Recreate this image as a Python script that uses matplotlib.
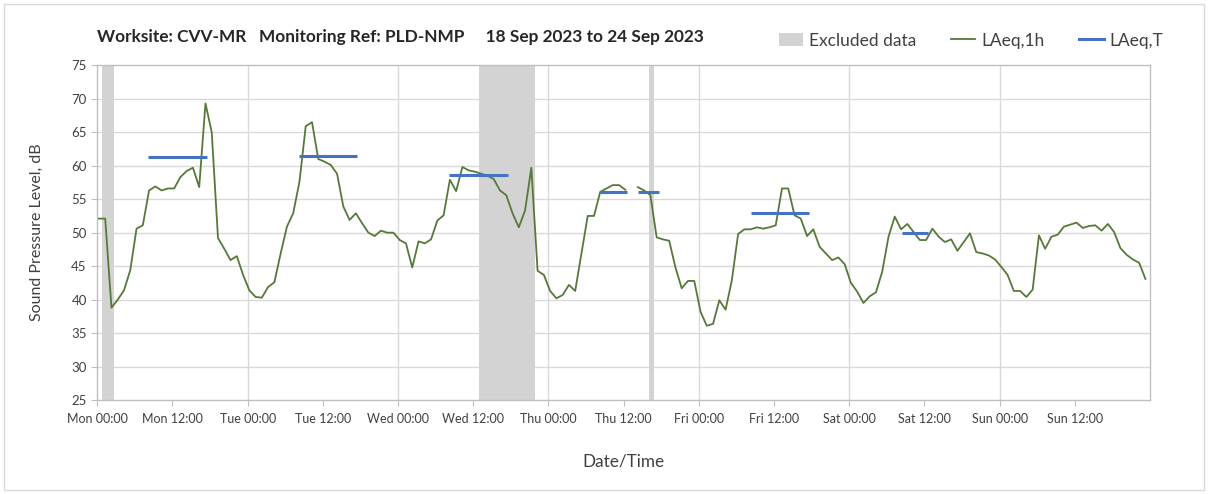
import matplotlib
matplotlib.use("Agg")
import matplotlib.pyplot as plt
import numpy as np
from matplotlib.lines import Line2D
from matplotlib.patches import Patch, Rectangle

plt.rcParams["font.family"] = ["Lato", "DejaVu Sans"]

# hourly LAeq,1h values, Mon 00:00 .. Sun 23:00 (NaN = no data)
laeq_1h = [
    52.1, 52.1, 38.8, 40.0, 41.4, 44.4, 50.6, 51.1, 56.3, 56.9, 56.3, 56.6,
    56.6, 58.3, 59.2, 59.7, 56.8, 69.3, 65.0, 49.2, 47.6, 45.9, 46.5, 43.7,
    41.4, 40.4, 40.3, 41.9, 42.6, 46.9, 50.9, 52.9, 57.6, 65.9, 66.5, 61.0,
    60.6, 60.1, 58.8, 53.9, 51.9, 52.9, 51.4, 50.0, 49.5, 50.3, 50.0, 50.0,
    48.9, 48.4, 44.8, 48.7, 48.4, 49.0, 51.8, 52.6, 57.9, 56.2, 59.8, 59.3,
    59.1, 58.8, 58.5, 58.0, 56.3, 55.6, 52.9, 50.8, 53.3, 59.7, 44.3, 43.7,
    41.3, 40.2, 40.7, 42.2, 41.3, 46.9, 52.5, 52.5, 56.1, 56.6, 57.1, 57.1,
    56.4, np.nan, 56.8, 56.3, 55.6, 49.3, 49.0, 48.8, 44.8, 41.7, 42.8, 42.8,
    38.2, 36.1, 36.4, 39.9, 38.5, 42.9, 49.8, 50.5, 50.5, 50.8, 50.6, 50.8,
    51.1, 56.6, 56.6, 52.6, 52.1, 49.5, 50.5, 47.9, 46.9, 45.9, 46.3, 45.3,
    42.5, 41.2, 39.5, 40.5, 41.1, 44.2, 49.4, 52.4, 50.5, 51.3, 50.1, 48.9,
    48.9, 50.6, 49.4, 48.6, 49.0, 47.3, 48.6, 49.9, 47.1, 46.9, 46.6, 46.0,
    44.9, 43.7, 41.3, 41.3, 40.4, 41.5, 49.6, 47.6, 49.4, 49.7, 50.9, 51.2,
    51.5, 50.7, 51.0, 51.1, 50.3, 51.3, 50.1, 47.7, 46.7, 46.0, 45.5, 43.1,
]

# LAeq,T periods: start hour, end hour, level
laeq_t_start = [8.1, 32.2, 56.2, 80.3, 86.3, 104.3, 128.4]
laeq_t_end = [17.5, 41.5, 65.6, 84.5, 89.6, 113.6, 132.6]
laeq_t_level = [61.3, 61.4, 58.6, 56.1, 56.1, 52.9, 50.0]

# excluded data periods (hours from Mon 00:00)
excl_start = [0.8, 60.9, 88.0]
excl_end = [2.7, 69.8, 88.8]

tick_labels = [
    "Mon 00:00", "Mon 12:00", "Tue 00:00", "Tue 12:00", "Wed 00:00", "Wed 12:00",
    "Thu 00:00", "Thu 12:00", "Fri 00:00", "Fri 12:00", "Sat 00:00", "Sat 12:00",
    "Sun 00:00", "Sun 12:00",
]

GREEN = "#557A38"
BLUE = "#4472C4"
BAND = "#D3D3D3"
GRID = "#D9D9D9"
TEXT = "#404040"

hours = np.arange(len(laeq_1h)) + 0.27

fig = plt.figure(figsize=(12.08, 4.94), dpi=100)
ax = fig.add_axes([0.0805, 0.190, 0.8715, 0.678])

for s, e in zip(excl_start, excl_end):
    ax.axvspan(s, e, color=BAND, linewidth=0, zorder=1)

ax.plot(hours, laeq_1h, color=GREEN, linewidth=1.3, zorder=3)
ax.hlines(laeq_t_level, laeq_t_start, laeq_t_end, color=BLUE, linewidth=2.2, zorder=4)

ax.set_xlim(0, 168)
ax.set_ylim(25, 75)
ax.set_yticks(np.arange(25, 76, 5))
ax.set_xticks(np.arange(0, 168, 12))
ax.set_xticklabels(tick_labels)
ax.grid(False)
for x in np.arange(24, 168, 24):
    ax.axvline(x, color=GRID, linewidth=1.0, zorder=0)
for y in np.arange(30, 75, 5):
    ax.axhline(y, color=GRID, linewidth=1.0, zorder=0)

for side in ["top", "right", "left", "bottom"]:
    ax.spines[side].set_color("#BFBFBF")
    ax.spines[side].set_linewidth(1.0)
ax.tick_params(axis="both", which="major", colors="#BFBFBF", labelcolor=TEXT,
               labelsize=9.5, length=4, direction="out")
ax.tick_params(axis="x", labelsize=9.0, pad=5)

ax.set_ylabel("Sound Pressure Level, dB", fontsize=11.5, color=TEXT, labelpad=20)
ax.set_xlabel("Date/Time", fontsize=12.3, color=TEXT, labelpad=21)

fig.text(0.080, 0.925, "Worksite: CVV-MR   Monitoring Ref: PLD-NMP     18 Sep 2023 to 24 Sep 2023",
         fontsize=12.4, fontweight="bold", color="#262626", va="center", ha="left")

handles = [
    Patch(facecolor=BAND, edgecolor="none"),
    Line2D([], [], color=GREEN, linewidth=1.3),
    Line2D([], [], color=BLUE, linewidth=2.2),
]
fig.legend(handles, ["Excluded data", "LAeq,1h", "LAeq,T"], loc="center right",
           bbox_to_anchor=(0.976, 0.918), ncol=3, frameon=False, fontsize=12.5,
           handlelength=1.4, handletextpad=0.35, columnspacing=2.0,
           labelcolor=TEXT)

fig.patches.append(Rectangle((0.003, 0.008), 0.994, 0.984, transform=fig.transFigure,
                             fill=False, edgecolor="#D9D9D9", linewidth=1.0))

fig.savefig("out.png", dpi=100)
